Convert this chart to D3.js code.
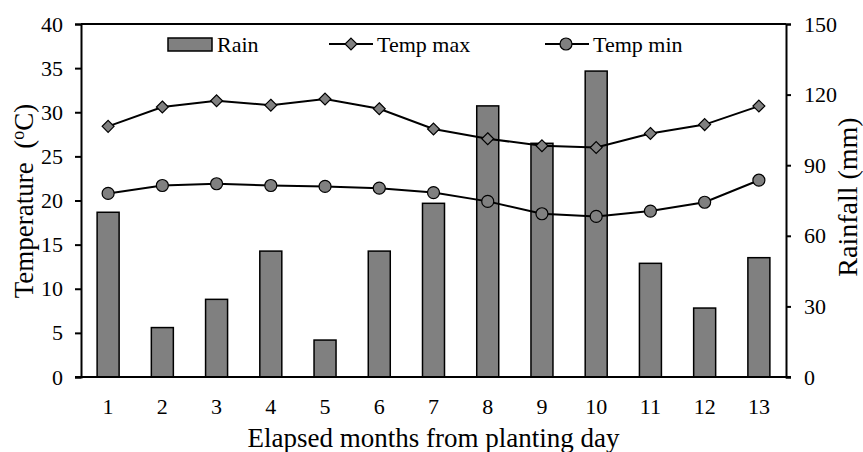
<!DOCTYPE html>
<html>
<head>
<meta charset="utf-8">
<script src="https://cdn.jsdelivr.net/npm/d3@7"></script>
<style>
  body { margin: 0; background: #fff; }
  text { font-family: "Liberation Serif", "Times New Roman", serif; fill: #000; }
</style>
</head>
<body>
<div id="chart"></div>
<script>
var months = ["1","2","3","4","5","6","7","8","9","10","11","12","13"];
var rain = [70, 21, 33, 53.5, 15.7, 53.5, 73.8, 115.2, 99.3, 130, 48.3, 29.3, 50.7];
var tempMax = [28.4, 30.6, 31.3, 30.8, 31.5, 30.4, 28.1, 27.0, 26.2, 26.0, 27.6, 28.6, 30.7];
var tempMin = [20.8, 21.7, 21.9, 21.7, 21.6, 21.4, 20.9, 19.9, 18.5, 18.2, 18.8, 19.8, 22.3];
var tempTicks = [0, 5, 10, 15, 20, 25, 30, 35, 40];
var rainTicks = [0, 30, 60, 90, 120, 150];

var w = 863, h = 452;
var m = {left: 81, right: 77, top: 24, bottom: 75};
var iw = w - m.left - m.right, ih = h - m.top - m.bottom;

var svg = d3.select("#chart").append("svg")
    .attr("width", w)
    .attr("height", h);

var g = svg.append("g").attr("transform", "translate(" + m.left + "," + m.top + ")");

var x = d3.scaleBand().domain(months).range([0, iw]);
var yT = d3.scaleLinear().domain([0, 40]).range([ih, 0]);
var yR = d3.scaleLinear().domain([0, 150]).range([ih, 0]);
var cx = function(i) { return x(months[i]) + x.bandwidth() / 2; };

// bars
var bw = 22;
g.selectAll("rect.bar")
    .data(rain)
    .enter().append("rect")
    .attr("class", "bar")
    .attr("x", function(d, i) { return cx(i) - bw / 2; })
    .attr("y", function(d) { return yR(d); })
    .attr("width", bw)
    .attr("height", function(d) { return ih - yR(d); })
    .attr("fill", "#808080")
    .attr("stroke", "#000")
    .attr("stroke-width", 1.5);

// lines
var line = d3.line()
    .x(function(d, i) { return cx(i); })
    .y(function(d) { return yT(d); });

[tempMax, tempMin].forEach(function(s) {
    g.append("path")
        .datum(s)
        .attr("d", line)
        .attr("fill", "none")
        .attr("stroke", "#000")
        .attr("stroke-width", 2);
});

var diamond = d3.symbol().type(d3.symbolDiamond2).size(90);

g.selectAll("path.dmax")
    .data(tempMax)
    .enter().append("path")
    .attr("class", "dmax")
    .attr("transform", function(d, i) { return "translate(" + cx(i) + "," + yT(d) + ")"; })
    .attr("d", diamond)
    .attr("fill", "#808080")
    .attr("stroke", "#000")
    .attr("stroke-width", 1.2);

g.selectAll("circle.dmin")
    .data(tempMin)
    .enter().append("circle")
    .attr("class", "dmin")
    .attr("cx", function(d, i) { return cx(i); })
    .attr("cy", function(d) { return yT(d); })
    .attr("r", 6)
    .attr("fill", "#808080")
    .attr("stroke", "#000")
    .attr("stroke-width", 1.2);

// axes
var left = g.append("g")
    .call(d3.axisLeft(yT).tickValues(tempTicks).tickSize(6).tickPadding(12));
var right = g.append("g")
    .attr("transform", "translate(" + iw + ",0)")
    .call(d3.axisRight(yR).tickValues(rainTicks).tickSize(5).tickPadding(13));
var bottom = g.append("g")
    .attr("transform", "translate(0," + ih + ")")
    .call(d3.axisBottom(x).tickSize(0).tickPadding(21));

[left, right, bottom].forEach(function(a) {
    a.select(".domain").attr("stroke", "#000").attr("stroke-width", 2);
    a.selectAll(".tick line").attr("stroke", "#000").attr("stroke-width", 2);
    a.selectAll("text")
        .style("font-family", "'Liberation Serif', 'Times New Roman', serif")
        .style("font-size", "22px")
        .attr("fill", "#000");
});
bottom.select(".domain").attr("d", "M-6,0H" + (iw + 5));

// top border
g.append("line")
    .attr("x1", 0).attr("x2", iw)
    .attr("y1", 0).attr("y2", 0)
    .attr("stroke", "#000")
    .attr("stroke-width", 2);

// axis titles
svg.append("text")
    .attr("x", m.left + iw / 2)
    .attr("y", 447)
    .attr("text-anchor", "middle")
    .style("font-size", "27px")
    .text("Elapsed months from planting day");

var tt = svg.append("text")
    .attr("transform", "translate(33,201) rotate(-90)")
    .attr("text-anchor", "middle")
    .style("font-size", "27px");
tt.append("tspan").text("Temperature\u00a0\u00a0(");
tt.append("tspan").attr("dy", -9).style("font-size", "18px").text("o");
tt.append("tspan").attr("dy", 9).text("C)");

svg.append("text")
    .attr("transform", "translate(857,197) rotate(-90)")
    .attr("text-anchor", "middle")
    .style("font-size", "28px")
    .text("Rainfall (mm)");

// legend
var lg = svg.append("g").style("font-size", "22px");
lg.append("rect")
    .attr("x", 168).attr("y", 38).attr("width", 44).attr("height", 13)
    .attr("fill", "#808080").attr("stroke", "#000").attr("stroke-width", 1.5);
lg.append("text").attr("x", 217).attr("y", 52).text("Rain");

lg.append("line").attr("x1", 329).attr("x2", 373).attr("y1", 44).attr("y2", 44)
    .attr("stroke", "#000").attr("stroke-width", 2);
lg.append("path").attr("transform", "translate(351,44)").attr("d", diamond)
    .attr("fill", "#808080").attr("stroke", "#000").attr("stroke-width", 1.2);
lg.append("text").attr("x", 377).attr("y", 52).text("Temp max");

lg.append("line").attr("x1", 545).attr("x2", 589).attr("y1", 44).attr("y2", 44)
    .attr("stroke", "#000").attr("stroke-width", 2);
lg.append("circle").attr("cx", 566).attr("cy", 44).attr("r", 6)
    .attr("fill", "#808080").attr("stroke", "#000").attr("stroke-width", 1.2);
lg.append("text").attr("x", 593).attr("y", 52).text("Temp min");
</script>
</body>
</html>
